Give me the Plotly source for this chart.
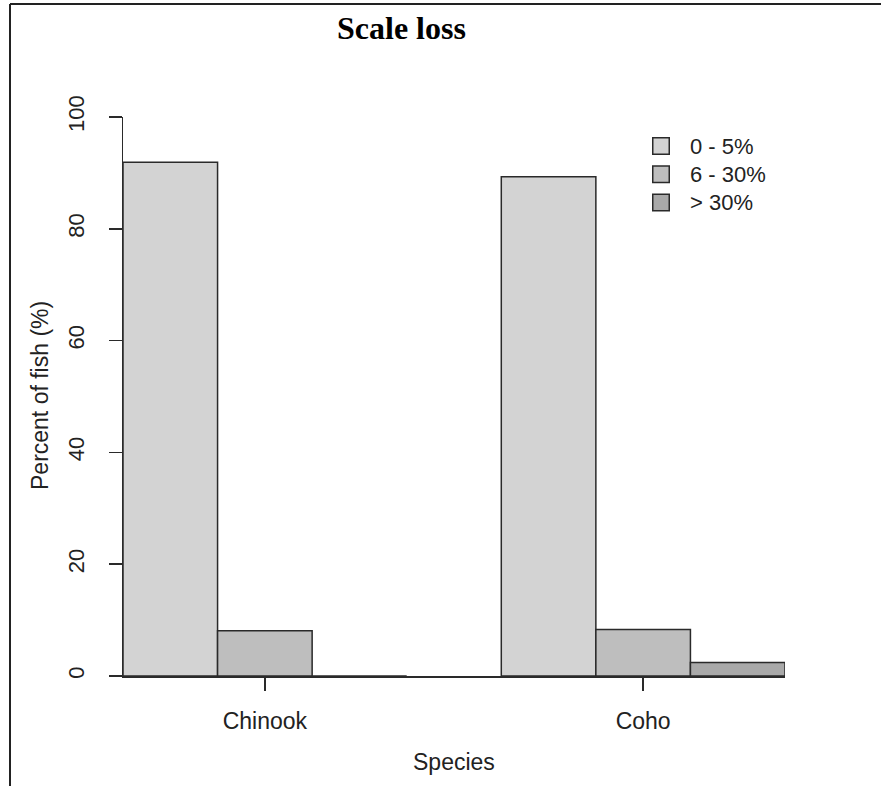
import plotly.graph_objects as go

# ---- data ----
species = ["Chinook", "Coho"]
species_pos = [2.5, 6.5]
loss_classes = ["0 - 5%", "6 - 30%", "> 30%"]
pct_low = [91.9, 89.3]      # 0 - 5%
pct_mid = [8.1, 8.3]        # 6 - 30%
pct_high = [0.0, 2.4]       # > 30%
y_ticks = [0, 20, 40, 60, 80, 100]
colors = ["#D3D3D3", "#BEBEBE", "#A9A9A9"]

W, H = 881, 786
L, R, T, B = 123, 96, 117, 110
PW, PH = W - L - R, H - T - B


def px(x):
    return (x - L) / PW


def py(y):
    return (H - B - y) / PH


SANS = "Liberation Sans, Arial, sans-serif"
SERIF = "Liberation Serif, Times New Roman, serif"
EDGE = "#2a2a2a"

fig = go.Figure()
for name, vals, col in zip(loss_classes, [pct_low, pct_mid, pct_high], colors):
    fig.add_trace(go.Bar(
        x=species_pos, y=vals, name=name,
        marker=dict(color=col, line=dict(color=EDGE, width=1.5)),
        showlegend=False,
    ))

fig.update_layout(
    width=W, height=H,
    margin=dict(l=L, r=R, t=T, b=B, pad=0),
    paper_bgcolor="white", plot_bgcolor="white",
    barmode="group", bargap=0.25, bargroupgap=0,
    font=dict(family=SANS, size=22, color="#222"),
    showlegend=False,
)
fig.update_xaxes(
    range=[1, 8], tickvals=species_pos, ticktext=species,
    ticks="outside", ticklen=13, tickwidth=1.5, tickcolor=EDGE,
    showline=True, linecolor=EDGE, linewidth=1.5,
    showgrid=False, zeroline=False, ticklabelstandoff=11,
    tickfont=dict(family=SANS, size=23, color="#222"),
)
fig.update_yaxes(
    range=[0, 100], tickvals=y_ticks, ticktext=[str(v) for v in y_ticks],
    ticks="outside", ticklen=13, tickwidth=1.5, tickcolor=EDGE,
    showline=True, linecolor=EDGE, linewidth=1.5,
    showgrid=False, zeroline=False, tickangle=-90, ticklabelstandoff=16,
    tickfont=dict(family=SANS, size=22, color="#222"),
)

annotations = [
    dict(text="<b>Scale loss</b>", x=px(401), y=py(28), xref="paper", yref="paper",
         showarrow=False, xanchor="center", yanchor="middle",
         font=dict(family=SERIF, size=32, color="black")),
    dict(text="Species", x=px(454), y=py(762), xref="paper", yref="paper",
         showarrow=False, xanchor="center", yanchor="middle",
         font=dict(family=SANS, size=23, color="#222")),
    dict(text="Percent of fish (%)", x=px(40), y=py(396), xref="paper", yref="paper",
         showarrow=False, xanchor="center", yanchor="middle", textangle=-90,
         font=dict(family=SANS, size=23, color="#222")),
]
shapes = [
    # outer frame (top and left edges)
    dict(type="line", xref="paper", yref="paper", x0=px(10), x1=px(881), y0=py(4), y1=py(4),
         line=dict(color="#222", width=2)),
    dict(type="line", xref="paper", yref="paper", x0=px(10), x1=px(10), y0=py(4), y1=py(786),
         line=dict(color="#222", width=2)),
]

# manual legend
leg_x, leg_y0, leg_dy, sq = 661, 146, 28.3, 16.5
for i, (name, col) in enumerate(zip(loss_classes, colors)):
    cy = leg_y0 + i * leg_dy
    shapes.append(dict(type="rect", xref="paper", yref="paper",
                       x0=px(leg_x - sq / 2), x1=px(leg_x + sq / 2),
                       y0=py(cy + sq / 2), y1=py(cy - sq / 2),
                       fillcolor=col, line=dict(color=EDGE, width=1.5)))
    annotations.append(dict(text=name, x=px(688), y=py(cy), xref="paper", yref="paper",
                            showarrow=False, xanchor="left", yanchor="middle",
                            font=dict(family=SANS, size=22, color="#222")))

fig.update_layout(annotations=annotations, shapes=shapes)
fig.write_html(
    "out.html",
    config={"displayModeBar": False, "staticPlot": True},
    post_script="document.body.style.margin='0';document.body.style.overflow='hidden';",
)
